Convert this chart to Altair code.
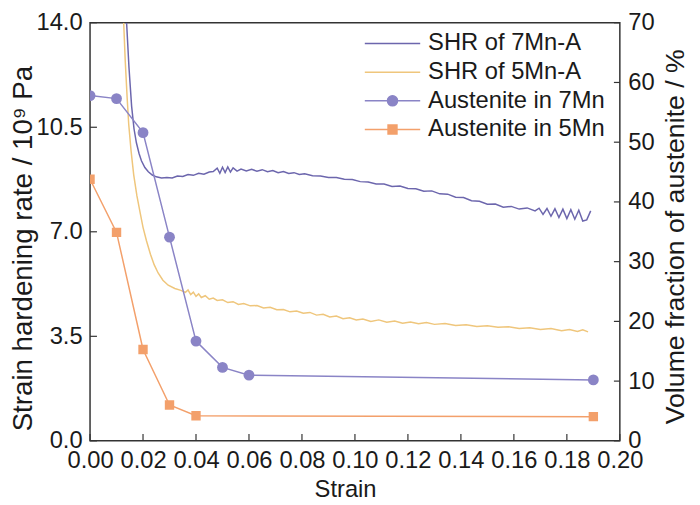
import altair as alt
import pandas as pd

SERIES = ["SHR of 7Mn-A", "SHR of 5Mn-A", "Austenite in 7Mn", "Austenite in 5Mn"]
COLORS = ["#6C66AD", "#EFC67C", "#8A84C6", "#F3A06B"]
LEGEND_PATHS = [
    "M-4.67,0H4.67",
    "M-4.67,0H4.67",
    "M-4.67,0H4.67M0.85,0A0.85,0.85,0,1,1,-0.85,0A0.85,0.85,0,1,1,0.85,0",
    "M-4.67,0H4.67M-0.75,-0.75H0.75V0.75H-0.75Z",
]

# Strain hardening rate of 7Mn-A (10^9 Pa)
shr7_strain = [0.0138, 0.0147, 0.0157, 0.0166, 0.0175, 0.0185, 0.0194, 0.0207, 0.0220, 0.0235,
               0.0250, 0.0270, 0.0290, 0.0310, 0.0330, 0.0350, 0.0370, 0.0390, 0.0410, 0.0430,
               0.0450, 0.0465, 0.0480, 0.0490, 0.0500, 0.0510, 0.0520, 0.0530, 0.0540, 0.0555,
               0.0570, 0.0590, 0.0610, 0.0630, 0.0650, 0.0670, 0.0690, 0.0710, 0.0730, 0.0750,
               0.0770, 0.0790, 0.0810, 0.0840, 0.0870, 0.0900, 0.0930, 0.0960, 0.0990, 0.1020,
               0.1050, 0.1080, 0.1110, 0.1140, 0.1170, 0.1200, 0.1230, 0.1260, 0.1290, 0.1320,
               0.1350, 0.1380, 0.1410, 0.1440, 0.1470, 0.1500, 0.1530, 0.1560, 0.1590, 0.1620,
               0.1650, 0.1680, 0.1695, 0.1710, 0.1725, 0.1740, 0.1755, 0.1770, 0.1785, 0.1800,
               0.1815, 0.1830, 0.1845, 0.1860, 0.1875, 0.1890]
shr7_rate = [14.0, 12.5, 11.2, 10.45, 9.98, 9.62, 9.38, 9.15, 9.01, 8.90,
             8.84, 8.80, 8.82, 8.80, 8.87, 8.85, 8.92, 8.89, 8.96, 8.93,
             9.00, 9.02, 9.13, 8.96, 9.16, 8.98, 9.17, 9.00, 9.14, 9.03,
             9.10, 9.04, 9.09, 9.03, 9.08, 9.01, 9.05, 8.98, 9.02, 8.95,
             8.98, 8.92, 8.94, 8.88, 8.87, 8.82, 8.82, 8.76, 8.75, 8.68,
             8.67, 8.60, 8.60, 8.52, 8.53, 8.45, 8.44, 8.36, 8.37, 8.27,
             8.26, 8.16, 8.15, 8.04, 8.02, 7.92, 7.93, 7.82, 7.85, 7.76,
             7.80, 7.70, 7.79, 7.58, 7.78, 7.52, 7.77, 7.48, 7.76, 7.44,
             7.74, 7.42, 7.72, 7.36, 7.40, 7.70]

# Strain hardening rate of 5Mn-A (10^9 Pa)
shr5_strain = [0.0127, 0.0133, 0.0140, 0.0146, 0.0155, 0.0165, 0.0177, 0.0190, 0.0200, 0.0213,
               0.0228, 0.0242, 0.0257, 0.0275, 0.0295, 0.0320, 0.0343, 0.0360, 0.0370, 0.0380,
               0.0390, 0.0400, 0.0410, 0.0420, 0.0435, 0.0450, 0.0465, 0.0480, 0.0500, 0.0520,
               0.0540, 0.0560, 0.0580, 0.0605, 0.0630, 0.0655, 0.0680, 0.0705, 0.0730, 0.0755,
               0.0780, 0.0805, 0.0830, 0.0855, 0.0880, 0.0905, 0.0930, 0.0955, 0.0980, 0.1005,
               0.1030, 0.1060, 0.1090, 0.1120, 0.1150, 0.1180, 0.1210, 0.1240, 0.1270, 0.1300,
               0.1340, 0.1380, 0.1420, 0.1460, 0.1500, 0.1540, 0.1580, 0.1620, 0.1660, 0.1700,
               0.1740, 0.1780, 0.1810, 0.1840, 0.1860, 0.1880]
shr5_rate = [14.0, 12.7, 11.5, 10.6, 9.7, 8.9, 8.2, 7.6, 7.15, 6.7,
             6.25, 5.9, 5.62, 5.38, 5.21, 5.10, 5.04, 4.97, 5.05, 4.90,
             4.98, 4.84, 4.92, 4.80, 4.86, 4.74, 4.78, 4.70, 4.72, 4.63,
             4.66, 4.57, 4.60, 4.52, 4.53, 4.45, 4.47, 4.39, 4.40, 4.32,
             4.35, 4.27, 4.30, 4.21, 4.24, 4.15, 4.18, 4.09, 4.12, 4.05,
             4.08, 4.00, 4.05, 3.97, 4.01, 3.94, 3.98, 3.92, 3.96, 3.90,
             3.93, 3.86, 3.89, 3.83, 3.85, 3.80, 3.82, 3.76, 3.79, 3.73,
             3.76, 3.69, 3.73, 3.66, 3.72, 3.65]

# Volume fraction of austenite (%)
aus7_strain = [0.00, 0.01, 0.02, 0.03, 0.04, 0.05, 0.06, 0.19]
aus7_frac = [57.8, 57.3, 51.6, 34.1, 16.7, 12.3, 11.0, 10.2]
aus5_strain = [0.00, 0.01, 0.02, 0.03, 0.04, 0.19]
aus5_frac = [43.8, 34.9, 15.3, 6.0, 4.2, 4.05]

x_ticks = [0.00, 0.02, 0.04, 0.06, 0.08, 0.10, 0.12, 0.14, 0.16, 0.18, 0.20]
left_ticks = [0.0, 3.5, 7.0, 10.5, 14.0]
right_ticks = [0, 10, 20, 30, 40, 50, 60, 70]

shr = pd.DataFrame({
    "strain": shr7_strain + shr5_strain,
    "value": shr7_rate + shr5_rate,
    "series": [SERIES[0]] * len(shr7_strain) + [SERIES[1]] * len(shr5_strain),
})
aus = pd.DataFrame({
    "strain": aus7_strain + aus5_strain,
    "value": aus7_frac + aus5_frac,
    "series": [SERIES[2]] * len(aus7_strain) + [SERIES[3]] * len(aus5_strain),
})

W, H = 536, 423
FONT = "Liberation Sans"
TXT = "#1a1a1a"
FRAME = "#333333"

xscale = alt.Scale(domain=[0, 0.2], nice=False, zero=False)
lscale = alt.Scale(domain=[0, 14], nice=False)
rscale = alt.Scale(domain=[0, 70], nice=False)
stroke_scale = alt.Scale(domain=SERIES, range=COLORS)
fill_scale = alt.Scale(domain=SERIES, range=COLORS)
shape_scale = alt.Scale(domain=SERIES, range=LEGEND_PATHS)

x_axis = alt.Axis(values=x_ticks, format=".2f", title="Strain", labelFlush=False,
                  titleX=258, titleY=56, titleBaseline="alphabetic", titleFontSize=24)
x_enc = alt.X("strain:Q", scale=xscale, axis=x_axis)

stroke_enc = alt.Stroke("series:N", scale=stroke_scale, title=None)
fill_enc = alt.Fill("series:N", scale=fill_scale, title=None)

left_axis = alt.Axis(values=left_ticks, format=".1f", title="Strain hardening rate / 10⁹ Pa",
                     labelFlush=False, titleX=-67, titleY=228, titleBaseline="middle",
                     titleFontSize=28)
right_axis = alt.Axis(values=right_ticks, format="d", orient="right",
                      title="Volume fraction of austenite / %", labelFlush=False,
                      titleAngle=270, titleX=56, titleY=216, titleBaseline="middle",
                      titleFontSize=27)

shr_lines = alt.Chart(shr).mark_line(strokeWidth=1.5, clip=True).encode(
    x=x_enc,
    y=alt.Y("value:Q", scale=lscale, axis=left_axis),
    stroke=stroke_enc,
    detail="series:N",
)

legend_layer = alt.Chart(shr).transform_filter("false").mark_point(filled=True).encode(
    shape=alt.Shape("series:N", scale=shape_scale, title=None),
    fill=fill_enc,
    stroke=stroke_enc,
)

left_tick_rules = alt.Chart(pd.DataFrame({"value": left_ticks})).mark_rule(color=FRAME, strokeWidth=1.2).encode(
    y=alt.Y("value:Q", scale=lscale, axis=left_axis), x=alt.value(0), x2=alt.value(7))
bottom_tick_rules = alt.Chart(pd.DataFrame({"strain": x_ticks})).mark_rule(color=FRAME, strokeWidth=1.2).encode(
    x=x_enc, y=alt.value(H - 7), y2=alt.value(H))

left_group = alt.layer(shr_lines, left_tick_rules, bottom_tick_rules, legend_layer)

aus_y = alt.Y("value:Q", scale=rscale, axis=right_axis)

aus_lines = alt.Chart(aus).mark_line(strokeWidth=1.5, clip=True).encode(
    x=x_enc, y=aus_y, stroke=stroke_enc, detail="series:N")
aus7_pts = alt.Chart(aus).transform_filter(alt.datum.series == SERIES[2]).mark_point(
    filled=True, shape="circle", size=120, opacity=1, clip=True).encode(
    x=x_enc, y=aus_y, fill=fill_enc)
aus5_pts = alt.Chart(aus).transform_filter(alt.datum.series == SERIES[3]).mark_point(
    filled=True, shape="square", size=90, opacity=1, clip=True).encode(
    x=x_enc, y=aus_y, fill=fill_enc)
right_tick_rules = alt.Chart(pd.DataFrame({"value": right_ticks})).mark_rule(color=FRAME, strokeWidth=1.2).encode(
    y=aus_y, x=alt.value(W - 6), x2=alt.value(W))

right_group = alt.layer(aus_lines, aus7_pts, aus5_pts, right_tick_rules)

chart = alt.layer(left_group, right_group).resolve_scale(y="independent").properties(
    width=W, height=H,
    background="white",
    autosize=alt.AutoSizeParams(type="none"),
    padding={"left": 83, "top": 12, "right": 73, "bottom": 62},
).configure_view(stroke=FRAME, strokeWidth=1.5).configure_axis(
    ticks=False, domain=False, grid=False,
    labelFont=FONT, labelFontSize=24, labelColor=TXT, labelPadding=8,
    titleFont=FONT, titleFontWeight="normal", titleColor=TXT,
).configure_legend(
    orient="none", legendX=294, legendY=9, padding=0,
    labelFont=FONT, labelFontSize=24, labelColor=TXT, labelLimit=400,
    symbolSize=144, symbolStrokeWidth=1.5, symbolOpacity=1,
    rowPadding=5, labelOffset=24,
)

chart.save("out.html", embed_options={"renderer": "svg", "actions": False})
